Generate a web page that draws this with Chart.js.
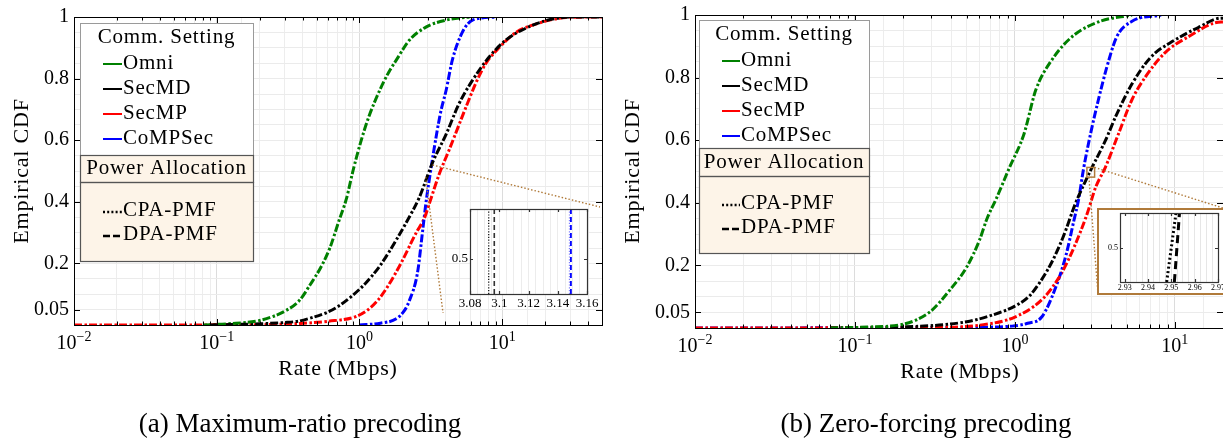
<!DOCTYPE html>
<html>
<head>
<meta charset="utf-8">
<script src="https://cdn.jsdelivr.net/npm/chart.js@4.4.1/dist/chart.umd.min.js"></script>
<style>
  body { margin: 0; width: 1223px; height: 440px; background: #fff; overflow: hidden; position: relative; }
  canvas { position: absolute; top: 0; }
</style>
</head>
<body>
<canvas id="mrChart" width="611" height="440" style="left:0"></canvas>
<canvas id="zfChart" width="611" height="440" style="left:612px"></canvas>
<canvas id="mrInset" width="160" height="115" style="left:440px;top:200px"></canvas>
<canvas id="zfInset" width="133" height="115" style="left:1090px;top:200px"></canvas>
<script>
// ---- data (rate in Mbps, empirical CDF) ----
const schemes = ['Omni', 'SecMD', 'SecMP', 'CoMPSec'];
const schemeColors = ['#008000', '#000000', '#ff0000', '#0000ff'];
const powerNames = ['CPA-PMF', 'DPA-PMF'];

// (a) maximum-ratio precoding
const mrOmniX = [0.08, 0.12, 0.2, 0.3, 0.38, 0.45, 0.54, 0.62, 0.72, 0.81, 0.9, 1.0, 1.15, 1.38, 1.6, 1.81, 2.24, 2.94, 4.05, 5.9];
const mrOmniY = [0, 0.004, 0.015, 0.045, 0.08, 0.13, 0.19, 0.25, 0.34, 0.41, 0.5, 0.58, 0.67, 0.76, 0.82, 0.86, 0.925, 0.968, 0.99, 1.0];
const mrSecMDX = [0.09, 0.2, 0.3, 0.38, 0.45, 0.6, 0.75, 0.89, 1.1, 1.38, 1.6, 1.81, 2.17, 2.63, 3.24, 4.05, 5.0, 6.2, 8.1, 10.6, 14.7, 21, 31, 50];
const mrSecMDY = [0, 0.004, 0.008, 0.013, 0.022, 0.042, 0.068, 0.095, 0.135, 0.19, 0.235, 0.276, 0.34, 0.415, 0.526, 0.62, 0.72, 0.795, 0.87, 0.925, 0.964, 0.99, 1.0, 1.0];
const mrSecMPX = [0.01, 0.2, 0.38, 0.6, 0.95, 1.2, 1.45, 1.9, 2.5, 2.85, 3.09, 3.62, 4.26, 5.6, 6.6, 7.7, 9.5, 12.5, 18, 28, 50];
const mrSecMPY = [0, 0.001, 0.005, 0.012, 0.028, 0.057, 0.10, 0.19, 0.30, 0.347, 0.395, 0.49, 0.57, 0.71, 0.79, 0.85, 0.90, 0.95, 0.98, 0.998, 1.0];
const mrCoMPX = [1.0, 1.4, 1.81, 2.05, 2.24, 2.55, 2.76, 2.94, 3.15, 3.3, 3.7, 4.05, 4.47, 5.25, 6.2, 9.1];
const mrCoMPY = [0, 0.006, 0.02, 0.045, 0.08, 0.17, 0.30, 0.406, 0.5, 0.56, 0.69, 0.763, 0.86, 0.95, 0.99, 1.0];

// (b) zero-forcing precoding
const zfOmniX = [0.07, 0.12, 0.19, 0.24, 0.30, 0.39, 0.50, 0.60, 0.67, 0.76, 0.92, 1.14, 1.35, 1.70, 2.27, 3.33, 5.4];
const zfOmniY = [0, 0.003, 0.01, 0.025, 0.055, 0.12, 0.195, 0.28, 0.35, 0.41, 0.51, 0.62, 0.76, 0.856, 0.93, 0.978, 1.0];
const zfSecMDX = [0.07, 0.19, 0.5, 0.79, 1.0, 1.22, 1.45, 1.7, 2.0, 2.4, 2.95, 3.69, 4.26, 5.4, 7.1, 10, 14, 19.5, 20];
const zfSecMDY = [0, 0.003, 0.02, 0.048, 0.07, 0.10, 0.15, 0.21, 0.29, 0.40, 0.50, 0.60, 0.675, 0.78, 0.866, 0.92, 0.96, 0.99, 0.99];
const zfSecMPX = [0.01, 0.3, 0.62, 1.0, 1.47, 1.88, 2.17, 2.58, 2.85, 3.2, 3.69, 4.44, 5.4, 6.5, 8.7, 12.1, 19.5, 20];
const zfSecMPY = [0, 0.002, 0.01, 0.035, 0.09, 0.16, 0.22, 0.31, 0.37, 0.45, 0.515, 0.62, 0.73, 0.80, 0.88, 0.93, 0.978, 0.978];
const zfCoMPX = [0.01, 0.5, 0.96, 1.2, 1.47, 1.8, 2.08, 2.33, 2.5, 2.69, 2.97, 3.33, 3.74, 4.33, 5.4, 8.2];
const zfCoMPY = [0, 0.002, 0.006, 0.015, 0.035, 0.13, 0.23, 0.34, 0.41, 0.51, 0.62, 0.73, 0.83, 0.93, 0.98, 1.0];

// zoomed insets around CDF = 0.5
const mrInsetX = [3.0928, 3.0966, 3.148, 3.149];   // SecMD CPA, SecMD DPA, CoMPSec CPA, CoMPSec DPA
const zfInsetBottomX = [2.948, 2.9513];            // SecMD CPA, SecMD DPA at y = 0.46
const zfInsetTopX = [2.952, 2.9535];               // at y = 0.54

// axis ticks
const xTickVals = [0.01, 0.1, 1, 10];
const xTickExp = ['\u22122', '\u22121', '0', '1'];
const yTickVals = [0.05, 0.2, 0.4, 0.6, 0.8, 1];
const yTickLabels = ['0.05', '0.2', '0.4', '0.6', '0.8', '1'];
const mrInsetTicks = [3.08, 3.1, 3.12, 3.14, 3.16];
const mrInsetLabels = ['3.08', '3.1', '3.12', '3.14', '3.16'];
const zfInsetTicks = [2.93, 2.94, 2.95, 2.96, 2.97];
const zfInsetLabels = ['2.93', '2.94', '2.95', '2.96', '2.97'];

const FONT = '"Liberation Serif", "Times New Roman", serif';
const BROWN = '#b07a3a';

function pts(xs, ys) { return xs.map((x, i) => ({ x: x, y: ys[i] })); }

function buildDatasets(xsList, ysList) {
  const out = [];
  xsList.forEach((xs, i) => {
    // DPA dashed over CPA dotted; dots sit in the middle of the dash gaps -> dash-dot look
    out.push({ label: schemes[i] + ' DPA', data: pts(xs, ysList[i]), borderColor: schemeColors[i],
      borderWidth: 3, borderDash: [8, 7], pointRadius: 0, cubicInterpolationMode: 'monotone', order: 1 });
    out.push({ label: schemes[i] + ' CPA', data: pts(xs, ysList[i]), borderColor: schemeColors[i],
      borderWidth: 3, borderDash: [2.5, 12.5], borderDashOffset: 4.5, pointRadius: 0,
      cubicInterpolationMode: 'monotone', order: 2 });
  });
  return out;
}

function isDecade(v) { const l = Math.log10(v); return Math.abs(l - Math.round(l)) < 1e-6; }

function drawLegend(ctx, g) {
  const w = g.x1 - g.x0;
  ctx.save();
  ctx.fillStyle = '#fff';
  ctx.fillRect(g.x0, g.top, w, g.hTop - g.top);
  ctx.strokeStyle = '#9a9a9a'; ctx.lineWidth = 1;
  ctx.strokeRect(g.x0 + 0.5, g.top + 0.5, w, g.hTop - g.top);
  ctx.fillStyle = '#fdf4e8';
  ctx.fillRect(g.x0, g.hTop, w, g.bottom - g.hTop);
  ctx.strokeStyle = '#555'; ctx.lineWidth = 1.2;
  ctx.strokeRect(g.x0 + 0.5, g.hTop + 0.5, w, g.hBot - g.hTop);
  ctx.strokeRect(g.x0 + 0.5, g.hBot + 0.5, w, g.bottom - g.hBot);

  ctx.fillStyle = '#000';
  ctx.textBaseline = 'middle';
  ctx.font = '21px ' + FONT;
  ctx.letterSpacing = '0.8px';
  ctx.textAlign = 'center';
  ctx.fillText('Comm. Setting', (g.x0 + g.x1) / 2, g.titleY);
  ctx.fillText('Power Allocation', (g.x0 + g.x1) / 2, g.headY);
  ctx.textAlign = 'left';
  schemes.forEach((name, i) => {
    ctx.strokeStyle = schemeColors[i]; ctx.lineWidth = 2; ctx.setLineDash([]);
    ctx.beginPath(); ctx.moveTo(g.sx0, g.rowY[i] + 1); ctx.lineTo(g.sx1, g.rowY[i] + 1); ctx.stroke();
    ctx.fillStyle = '#000';
    ctx.fillText(name, g.sx1 + 1, g.rowY[i]);
  });
  powerNames.forEach((name, i) => {
    ctx.strokeStyle = '#000'; ctx.lineWidth = 2.4;
    ctx.setLineDash(i === 0 ? [2, 2.2] : [7, 3]);
    ctx.beginPath(); ctx.moveTo(g.sx0, g.powY[i] + 2); ctx.lineTo(g.sx1, g.powY[i] + 2); ctx.stroke();
    ctx.setLineDash([]);
    ctx.fillText(name, g.sx1 + 1, g.powY[i]);
  });
  ctx.restore();
}

function decorPlugin(cfg) {
  return {
    id: 'decor',
    afterDraw(chart) {
      const ctx = chart.ctx, ca = chart.chartArea;
      const xs = chart.scales.x, ys = chart.scales.y;
      ctx.save();
      // frame
      ctx.strokeStyle = '#000'; ctx.lineWidth = 1;
      ctx.strokeRect(ca.left + 0.5, ca.top + 0.5, ca.right - ca.left, ca.bottom - ca.top);
      // inward ticks
      ctx.beginPath();
      xTickVals.forEach(v => {
        for (let k = 1; k <= 9; k++) {
          const val = v * k;
          if (val > cfg.xMax + 1e-9) break;
          const px = Math.round(xs.getPixelForValue(val)) + 0.5;
          const len = k === 1 ? 6 : 3.5;
          ctx.moveTo(px, ca.bottom); ctx.lineTo(px, ca.bottom - len);
          ctx.moveTo(px, ca.top); ctx.lineTo(px, ca.top + len);
        }
      });
      yTickVals.forEach(v => {
        const py = Math.round(ys.getPixelForValue(v)) + 0.5;
        ctx.moveTo(ca.left, py); ctx.lineTo(ca.left + 6, py);
        ctx.moveTo(ca.right, py); ctx.lineTo(ca.right - 6, py);
      });
      ctx.stroke();

      // tick labels
      ctx.fillStyle = '#000';
      ctx.textBaseline = 'middle';
      ctx.font = '20px ' + FONT;
      ctx.textAlign = 'right';
      yTickVals.forEach((v, i) => ctx.fillText(yTickLabels[i], ca.left - 5, ys.getPixelForValue(v)));
      xTickVals.forEach((v, i) => {
        const px = xs.getPixelForValue(v);
        ctx.font = '20px ' + FONT;
        const bw = ctx.measureText('10').width;
        ctx.font = '14px ' + FONT;
        const ew = ctx.measureText(xTickExp[i]).width;
        const x0 = px - (bw + ew) / 2;
        const yb = ca.bottom + 19;
        ctx.textAlign = 'left';
        ctx.font = '20px ' + FONT;
        ctx.fillText('10', x0, yb);
        ctx.font = '14px ' + FONT;
        ctx.fillText(xTickExp[i], x0 + bw, yb - 7);
      });

      // axis titles
      ctx.font = '22px ' + FONT;
      ctx.letterSpacing = '0.8px';
      ctx.textAlign = 'center';
      ctx.fillText('Rate (Mbps)', cfg.xTitleX, ca.bottom + 44);
      ctx.save();
      ctx.translate(cfg.yTitleX, 171);
      ctx.rotate(-Math.PI / 2);
      ctx.fillText('Empirical CDF', 0, 0);
      ctx.restore();
      ctx.letterSpacing = '0px';

      // caption
      ctx.font = '27px ' + FONT;
      ctx.fillText(cfg.caption, cfg.capX, 425);

      // zoom markers
      ctx.strokeStyle = BROWN; ctx.lineWidth = 1.4; ctx.setLineDash([1.5, 2]);
      cfg.connectors(ctx, xs, ys);
      ctx.setLineDash([]);
      ctx.restore();
      drawLegend(ctx, cfg.legend);
    }
  };
}

function mainChart(id, xMax, xsList, ysList, pad, cfg) {
  cfg.xMax = xMax;
  return new Chart(document.getElementById(id), {
    type: 'line',
    data: { datasets: buildDatasets(xsList, ysList) },
    options: {
      responsive: false, animation: false,
      layout: { padding: pad, autoPadding: false },
      plugins: { legend: { display: false }, tooltip: { enabled: false } },
      scales: {
        x: { type: 'logarithmic', min: 0.01, max: xMax,
             ticks: { display: false }, border: { display: false },
             grid: { drawTicks: false, lineWidth: 1,
                     color: c => (c.tick && isDecade(c.tick.value)) ? '#dcdcdc' : '#ededed' } },
        y: { type: 'linear', min: 0, max: 1,
             ticks: { display: false, stepSize: 0.05 }, border: { display: false },
             grid: { drawTicks: false, lineWidth: 1, color: '#ebebeb' } }
      }
    },
    plugins: [decorPlugin(cfg)]
  });
}

mainChart('mrChart', 50,
  [mrOmniX, mrSecMDX, mrSecMPX, mrCoMPX], [mrOmniY, mrSecMDY, mrSecMPY, mrCoMPY],
  { left: 74, top: 17, right: 9, bottom: 115 },
  { xTitleX: 338, yTitleX: 22, caption: '(a) Maximum-ratio precoding', capX: 300,
    legend: { x0: 80, x1: 253, top: 23, hTop: 155, hBot: 182, bottom: 261, titleY: 37,
              rowY: [63, 88, 113, 138], headY: 168, powY: [210, 234], sx0: 103, sx1: 122 },
    connectors(ctx, xs, ys) {
      const zx = xs.getPixelForValue(3.1), zy = ys.getPixelForValue(0.5);
      ctx.beginPath();
      ctx.moveTo(zx + 3, zy - 6); ctx.lineTo(600, 207);
      ctx.moveTo(zx - 4, zy + 6); ctx.lineTo(443, 313);
      ctx.stroke();
    } });

mainChart('zfChart', 20,
  [zfOmniX, zfSecMDX, zfSecMPX, zfCoMPX], [zfOmniY, zfSecMDY, zfSecMPY, zfCoMPY],
  { left: 83, top: 15, right: 0, bottom: 112 },
  { xTitleX: 348, yTitleX: 21, caption: '(b) Zero-forcing precoding', capX: 314,
    legend: { x0: 87, x1: 257, top: 20, hTop: 148, hBot: 176, bottom: 253, titleY: 34,
              rowY: [60, 85, 110, 135], headY: 162, powY: [203, 227], sx0: 110, sx1: 128 },
    connectors(ctx, xs, ys) {
      const l = xs.getPixelForValue(2.82), r = xs.getPixelForValue(3.15);
      const t = ys.getPixelForValue(0.513), b = ys.getPixelForValue(0.482);
      ctx.beginPath();
      ctx.moveTo(r, t); ctx.lineTo(614, 209);
      ctx.moveTo(l + 2, b); ctx.lineTo(486, 294);
      ctx.stroke();
      ctx.setLineDash([]); ctx.lineWidth = 1.5;
      ctx.strokeRect(l, t, r - l, b - t);
    } });

// ---- insets ----
function insetPlugin(o) {
  return {
    id: 'insetDecor',
    beforeDraw(chart) {
      const ctx = chart.ctx, ca = chart.chartArea;
      ctx.save();
      if (o.frame) {
        ctx.fillStyle = '#fff';
        ctx.fillRect(o.frame[0], o.frame[1], o.frame[2], o.frame[3]);
      }
      ctx.fillStyle = '#fff';
      ctx.fillRect(ca.left, ca.top, ca.right - ca.left, ca.bottom - ca.top);
      ctx.restore();
    },
    afterDraw(chart) {
      const ctx = chart.ctx, ca = chart.chartArea;
      const xs = chart.scales.x, ys = chart.scales.y;
      ctx.save();
      ctx.strokeStyle = '#333'; ctx.lineWidth = 1.2;
      ctx.strokeRect(ca.left + 0.5, ca.top + 0.5, ca.right - ca.left, ca.bottom - ca.top);
      ctx.beginPath();
      o.ticks.forEach(v => {
        const px = Math.round(xs.getPixelForValue(v)) + 0.5;
        ctx.moveTo(px, ca.bottom); ctx.lineTo(px, ca.bottom - 3);
        ctx.moveTo(px, ca.top); ctx.lineTo(px, ca.top + 3);
      });
      const py = Math.round(ys.getPixelForValue(0.5)) + 0.5;
      ctx.moveTo(ca.left, py); ctx.lineTo(ca.left + 3, py);
      ctx.moveTo(ca.right, py); ctx.lineTo(ca.right - 3, py);
      ctx.stroke();
      ctx.fillStyle = '#000';
      ctx.font = o.font + 'px ' + FONT;
      ctx.textBaseline = 'middle';
      ctx.textAlign = 'center';
      o.ticks.forEach((v, i) => ctx.fillText(o.labels[i], xs.getPixelForValue(v), ca.bottom + o.labelGap));
      ctx.textAlign = 'right';
      ctx.fillText('0.5', ca.left - 2, ys.getPixelForValue(0.5));
      if (o.frame) {
        ctx.strokeStyle = BROWN; ctx.lineWidth = 2;
        ctx.strokeRect(o.frame[0], o.frame[1], o.frame[2], o.frame[3]);
      }
      ctx.restore();
    }
  };
}

function vline(x0, x1, y0, y1) { return [{ x: x0, y: y0 }, { x: x1, y: y1 }]; }

new Chart(document.getElementById('mrInset'), {
  type: 'line',
  data: { datasets: [
    { data: vline(mrInsetX[0], mrInsetX[0], 0.465, 0.55), borderColor: '#000', borderWidth: 1.2, borderDash: [1.2, 1.6] },
    { data: vline(mrInsetX[1], mrInsetX[1], 0.465, 0.55), borderColor: '#333', borderWidth: 1.6, borderDash: [5, 3] },
    { data: vline(mrInsetX[2], mrInsetX[2], 0.465, 0.55), borderColor: '#7f7fff', borderWidth: 1.2, borderDash: [1.2, 1.6] },
    { data: vline(mrInsetX[3], mrInsetX[3], 0.465, 0.55), borderColor: '#0000ff', borderWidth: 1.8, borderDash: [5, 3] }
  ].map(d => Object.assign(d, { pointRadius: 0 })) },
  options: {
    responsive: false, animation: false,
    layout: { padding: { left: 22, top: 9, right: 13, bottom: 21 }, autoPadding: false },
    plugins: { legend: { display: false }, tooltip: { enabled: false } },
    scales: {
      x: { type: 'linear', min: 3.08, max: 3.16, ticks: { display: false, stepSize: 0.005 },
           border: { display: false }, grid: { drawTicks: false, color: '#ececec' } },
      y: { type: 'linear', min: 0.465, max: 0.55, ticks: { display: false },
           border: { display: false }, grid: { display: false } }
    }
  },
  plugins: [insetPlugin({ ticks: mrInsetTicks, labels: mrInsetLabels, font: 13, labelGap: 10 })]
});

new Chart(document.getElementById('zfInset'), {
  type: 'line',
  data: { datasets: [
    { data: vline(zfInsetBottomX[0], zfInsetTopX[0], 0.46, 0.54), borderColor: '#000', borderWidth: 3, borderDash: [2, 2.5] },
    { data: vline(zfInsetBottomX[1], zfInsetTopX[1], 0.46, 0.54), borderColor: '#000', borderWidth: 3, borderDash: [8, 5] }
  ].map(d => Object.assign(d, { pointRadius: 0 })) },
  options: {
    responsive: false, animation: false,
    layout: { padding: { left: 22, top: 13, right: 5, bottom: 33 }, autoPadding: false },
    plugins: { legend: { display: false }, tooltip: { enabled: false } },
    scales: {
      x: { type: 'linear', min: 2.928, max: 2.97, ticks: { display: false, stepSize: 0.0025 },
           border: { display: false }, grid: { drawTicks: false, color: '#e6e6e6' } },
      y: { type: 'linear', min: 0.46, max: 0.54, ticks: { display: false },
           border: { display: false }, grid: { display: false } }
    }
  },
  plugins: [insetPlugin({ ticks: zfInsetTicks, labels: zfInsetLabels, font: 8, labelGap: 6, frame: [8, 9, 130, 85] })]
});
</script>
</body>
</html>
